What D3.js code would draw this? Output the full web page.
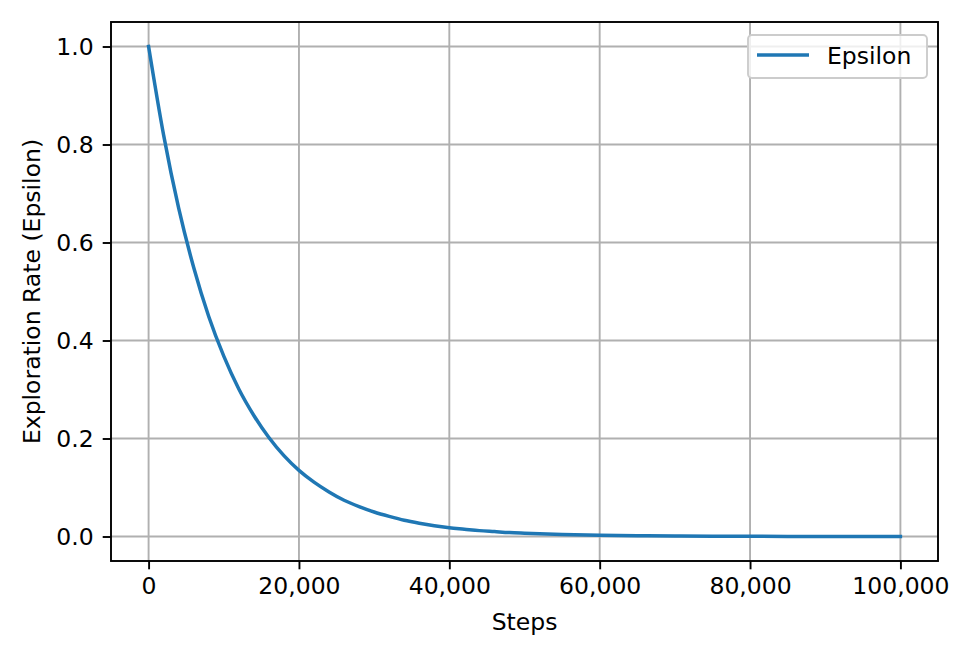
<!DOCTYPE html>
<html>
<head>
<meta charset="utf-8">
<script src="https://cdn.jsdelivr.net/npm/d3@7"></script>
<style>
  html, body { margin: 0; padding: 0; background: #fff; }
  svg { display: block; }
  text { font-family: "DejaVu Sans", sans-serif; fill: #000; }
</style>
</head>
<body>
<svg id="chart" width="972" height="659"></svg>
<script>
// ---- data ----
const steps = [0, 2000, 4000, 6000, 8000, 10000, 12000, 14000, 16000, 18000,
  20000, 22000, 24000, 26000, 28000, 30000, 32000, 34000, 36000, 38000,
  40000, 42000, 44000, 46000, 48000, 50000, 55000, 60000, 65000, 70000,
  75000, 80000, 85000, 90000, 95000, 100000];
const epsilon = [1.0, 0.819, 0.670, 0.549, 0.449, 0.368, 0.301, 0.247, 0.202, 0.165,
  0.135, 0.111, 0.091, 0.074, 0.061, 0.050, 0.041, 0.033, 0.027, 0.022,
  0.018, 0.015, 0.012, 0.010, 0.008, 0.0067, 0.0041, 0.0025, 0.0015, 0.0009,
  0.0006, 0.0003, 0.0002, 0.0001, 0.0001, 0.00005];
const xTicks = [0, 20000, 40000, 60000, 80000, 100000];
const yTicks = [0.0, 0.2, 0.4, 0.6, 0.8, 1.0];
const seriesName = "Epsilon";
const xLabel = "Steps";
const yLabel = "Exploration Rate (Epsilon)";

// ---- layout ----
const svg = d3.select("#chart");
const L = 111, R = 938, T = 22, B = 561;
const fs = 23.5;
const gridColor = "#b0b0b0";
const lineColor = "#1f77b4";

const x = d3.scaleLinear().domain([-5000, 105000]).range([L, R]);
const y = d3.scaleLinear().domain([-0.05, 1.05]).range([B, T]);

// grid
const grid = svg.append("g");
grid.selectAll("line.gx").data(xTicks).join("line")
  .attr("x1", d => x(d)).attr("x2", d => x(d)).attr("y1", T).attr("y2", B)
  .attr("stroke", gridColor).attr("stroke-width", 1.9);
grid.selectAll("line.gy").data(yTicks).join("line")
  .attr("y1", d => y(d)).attr("y2", d => y(d)).attr("x1", L).attr("x2", R)
  .attr("stroke", gridColor).attr("stroke-width", 1.9);

// curve
const data = steps.map((s, i) => [s, epsilon[i]]);
svg.append("path").datum(data)
  .attr("fill", "none").attr("stroke", lineColor).attr("stroke-width", 3.5)
  .attr("stroke-linecap", "square")
  .attr("d", d3.line().x(d => x(d[0])).y(d => y(d[1])).curve(d3.curveMonotoneX));

// spines
svg.append("rect").attr("x", L).attr("y", T).attr("width", R - L).attr("height", B - T)
  .attr("fill", "none").attr("stroke", "#000").attr("stroke-width", 1.9);

// axes
const xAxis = d3.axisBottom(x).tickValues(xTicks).tickSize(8.3).tickPadding(8)
  .tickFormat(d3.format(","));
const gx = svg.append("g").attr("transform", `translate(0,${B})`).call(xAxis);
gx.select(".domain").remove();
gx.selectAll(".tick line").attr("stroke", "#000").attr("stroke-width", 1.9);
gx.selectAll(".tick text").attr("font-size", fs).attr("font-family", "DejaVu Sans").attr("fill", "#000");

const yAxis = d3.axisLeft(y).tickValues(yTicks).tickSize(8.3).tickPadding(9)
  .tickFormat(d3.format(".1f"));
const gy = svg.append("g").attr("transform", `translate(${L},0)`).call(yAxis);
gy.select(".domain").remove();
gy.selectAll(".tick line").attr("stroke", "#000").attr("stroke-width", 1.9);
gy.selectAll(".tick text").attr("font-size", fs).attr("font-family", "DejaVu Sans").attr("fill", "#000");

// labels
svg.append("text").attr("x", (L + R) / 2).attr("y", 630)
  .attr("text-anchor", "middle").attr("font-size", fs).text(xLabel);
svg.append("text").attr("transform", `translate(40,${(T + B) / 2}) rotate(-90)`)
  .attr("text-anchor", "middle").attr("font-size", fs).text(yLabel);

// legend
const lg = svg.append("g");
lg.append("rect").attr("x", 748).attr("y", 35).attr("width", 179).attr("height", 43)
  .attr("rx", 4).attr("fill", "#fff").attr("fill-opacity", 0.8)
  .attr("stroke", "#cccccc").attr("stroke-width", 1.9);
lg.append("line").attr("x1", 757).attr("x2", 809).attr("y1", 55).attr("y2", 55)
  .attr("stroke", lineColor).attr("stroke-width", 3.5);
lg.append("text").attr("x", 827).attr("y", 56).attr("dy", "0.35em")
  .attr("font-size", fs).text(seriesName);
</script>
</body>
</html>
